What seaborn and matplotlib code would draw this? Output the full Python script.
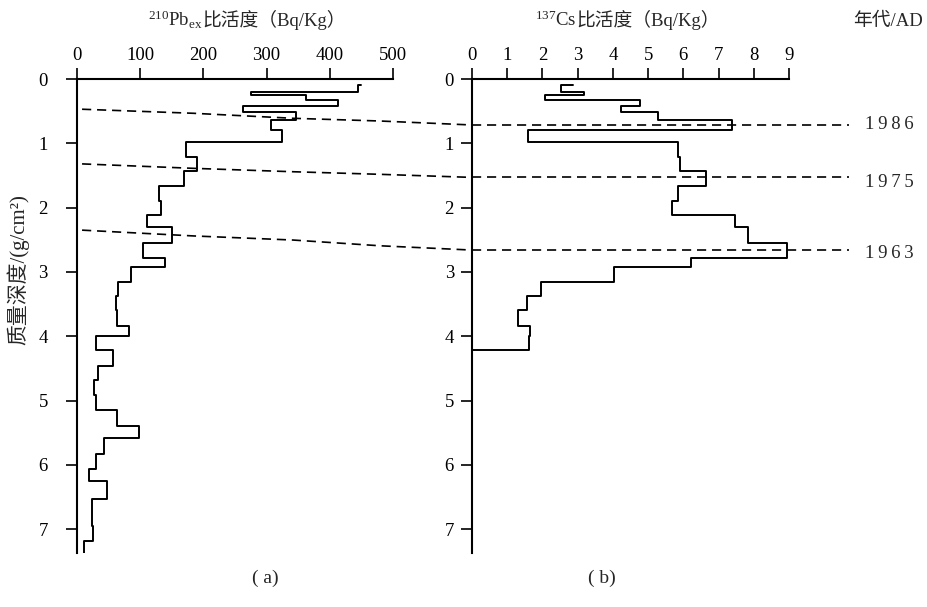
import numpy as np
import matplotlib
matplotlib.use('Agg')
import matplotlib.pyplot as plt
import seaborn as sns

sns.set_theme(style='white')
plt.rcParams['font.family'] = ['Liberation Serif', 'Noto Sans CJK SC', 'DejaVu Serif']
plt.rcParams['mathtext.fontset'] = 'custom'
plt.rcParams['mathtext.rm'] = 'Liberation Serif'
plt.rcParams['mathtext.it'] = 'Liberation Serif:italic'
plt.rcParams['axes.unicode_minus'] = False

# 层位边界 (质量深度, g/cm2)
depth_edges = [0.086, 0.195, 0.248, 0.33, 0.42, 0.512, 0.635, 0.80, 0.98,
               1.22, 1.43, 1.665, 1.90, 2.12, 2.30, 2.545, 2.785, 2.925,
               3.16, 3.375, 3.595, 3.84, 4.0, 4.21, 4.46, 4.68, 4.92, 5.14,
               5.39, 5.58, 5.83, 6.07, 6.25, 6.53, 6.95, 7.18, 7.40]

# 210Pbex 比活度 (Bq/Kg)
pb_values = [445, 276, 363, 413, 262, 347, 307, 325, 173, 190, 170, 130,
             133, 111, 151, 104, 139, 85, 65, 61, 63, 82, 30, 57.5, 34,
             27.5, 30, 64, 98, 43, 30, 19.5, 47, 24, 26, 11]
pb_start = 450

# 137Cs 比活度 (Bq/Kg)
cs_values = [2.53, 3.19, 2.07, 4.76, 4.23, 5.29, 7.37, 1.60, 5.85, 5.90,
             6.63, 5.85, 5.69, 7.48, 7.84, 8.93, 6.21, 4.03, 1.97, 1.56,
             1.32, 1.66, 1.61]
cs_start = 2.87

# 年代标志层
years = ['1986', '1975', '1963']
year_depth = [0.715, 1.53, 2.66]
guide_x = [8, 184, 342, 479]
guide_depth = [[0.47, 0.533, 0.611, 0.653],
               [1.32, 1.389, 1.442, 1.482],
               [2.35, 2.44, 2.504, 2.593]]


def step_path(edges, values, start, end=None):
    xs, ys = [start], [edges[0]]
    for i, v in enumerate(values):
        xs += [v, v]
        ys += [edges[i], edges[i + 1]]
    if end is not None:
        xs.append(end)
        ys.append(edges[len(values)])
    return xs, ys


W, H = 927, 607
fig = plt.figure(figsize=(W / 100, H / 100), dpi=100)
ax1 = fig.add_axes([77 / W, 1 - 553 / H, 316 / W, 474 / H])
ax2 = fig.add_axes([472 / W, 1 - 553 / H, 317 / W, 474 / H])

for ax, xlim, xticks, ypad in [(ax1, (0, 500), range(0, 501, 100), 13),
                               (ax2, (0, 9), range(0, 10), 5)]:
    ax.set_xlim(*xlim)
    ax.set_ylim(7.37, 0)
    ax.set_xticks(list(xticks))
    ax.set_yticks(range(0, 8))
    ax.xaxis.tick_top()
    ax.tick_params(axis='x', direction='out', length=8, width=1.2, pad=3,
                   labelsize=13.5, colors='black')
    ax.tick_params(axis='y', direction='out', length=8, width=1.2, pad=ypad,
                   labelsize=13.5, colors='black', left=True)
    for s in ['right', 'bottom']:
        ax.spines[s].set_visible(False)
    for s in ['left', 'top']:
        ax.spines[s].set_linewidth(1.5)
        ax.spines[s].set_color('black')
    ax.set_facecolor('none')
    ax.grid(False)

xs, ys = step_path(depth_edges, pb_values, pb_start)
sns.lineplot(x=xs, y=ys, sort=False, estimator=None, color='black',
             linewidth=1.4, ax=ax1)
xs, ys = step_path(depth_edges[:len(cs_values) + 1], cs_values, cs_start, end=0)
sns.lineplot(x=xs, y=ys, sort=False, estimator=None, color='black',
             linewidth=1.4, ax=ax2)

# 虚线: 左图连到右图的年代层
fig.canvas.draw()
renderer = fig.canvas.get_renderer()
for gd, d in zip(guide_depth, year_depth):
    end = ax1.transData.inverted().transform(ax2.transData.transform((0, d)))
    ax1.plot(guide_x + [end[0]], gd + [end[1]], color='black', lw=1.2,
             dashes=(5.5, 3.5), clip_on=False)
    ax2.plot([0, 10.7], [d, d], color='black', lw=1.2, dashes=(5.5, 3.5),
             clip_on=False)

for y, d, off in zip(years, year_depth, [-0.01, 0.085, 0.06]):
    ax2.text(11.85, d + off, '\u2009'.join(y), ha='center', va='center',
             fontsize=13.5, clip_on=False)


def mixed_title(cx, base_y, parts, size=13.5):
    # mathtext 不支持中文回退, 所以分段拼接
    texts = [fig.text(0, 1 - base_y / H, p, ha='left', va='baseline',
                      fontsize=size) for p in parts]
    widths = [t.get_window_extent(renderer).width for t in texts]
    x = cx - sum(widths) / 2
    for t, w in zip(texts, widths):
        t.set_x(x / W)
        x += w


mixed_title(247, 26, [r'$^{210}$Pb$_{\mathrm{ex}}$', '比活度（Bq/Kg）'])
mixed_title(627, 26, [r'$^{137}$Cs', '比活度（Bq/Kg）'])
fig.text(853 / W, 1 - 21 / H, '年代/AD', ha='left', va='center', fontsize=13.5)
fig.text(18 / W, 1 - 270 / H, '质量深度/(g/cm²)', rotation=90,
         ha='center', va='center', fontsize=15)
fig.text(265 / W, 1 - 578 / H, '( a)', ha='center', va='center', fontsize=14)
fig.text(602 / W, 1 - 578 / H, '( b)', ha='center', va='center', fontsize=14)

fig.savefig('out.png', dpi=100)
